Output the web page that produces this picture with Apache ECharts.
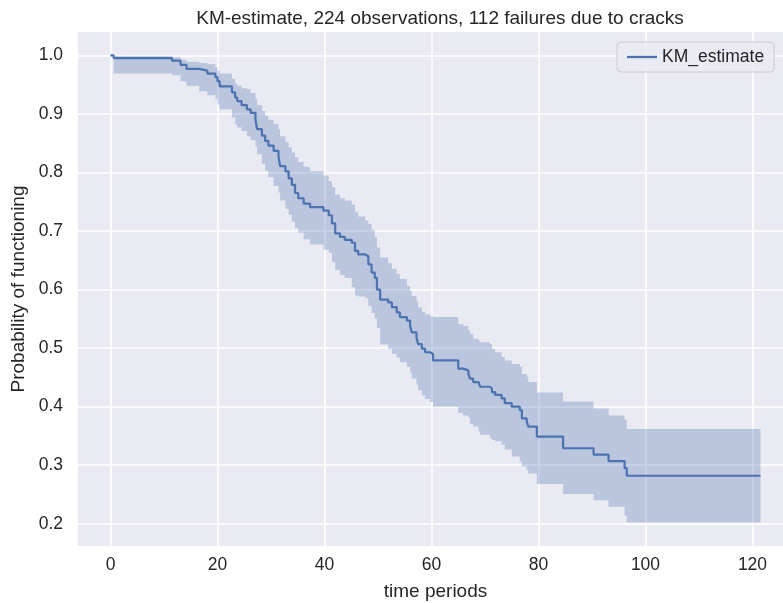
<!DOCTYPE html>
<html>
<head>
<meta charset="utf-8">
<script src="https://cdn.jsdelivr.net/npm/echarts@6/dist/echarts.min.js"></script>
<style>
html,body{margin:0;padding:0;background:#ffffff;}
#chart{width:783px;height:603px;}
</style>
</head>
<body>
<div id="chart"></div>
<script>
// Event times (time periods)
var times = [0, 0.6, 11.5, 13.1, 14.2, 16.6, 18.1, 19.6, 20.0, 20.4, 22.7, 23.3, 23.7, 24.5, 25.5, 26.2, 27.1, 27.4, 28.3, 28.9, 29.5, 30.5, 31.4, 31.7, 32.7, 33.3, 33.9, 34.5, 35.1, 36.1, 37.3, 39.8, 40.8, 41.4, 42.0, 42.9, 43.8, 45.1, 45.7, 46.3, 47.6, 48.2, 48.8, 49.4, 49.8, 50.4, 51.9, 52.6, 53.5, 54.1, 55.4, 56.0, 56.3, 57.2, 57.5, 58.2, 58.8, 59.7, 60.3, 65.0, 65.9, 66.9, 67.2, 67.8, 68.8, 69.1, 70.9, 71.3, 71.9, 73.1, 73.7, 75.0, 76.5, 76.9, 77.8, 78.1, 79.7, 84.6, 90.3, 93.1, 96.1, 96.5, 121.5];
// KM estimate
var kmEstimate = [1.000, 0.9955, 0.991, 0.984, 0.977, 0.974, 0.969, 0.963, 0.956, 0.947, 0.937, 0.928, 0.922, 0.915, 0.908, 0.902, 0.890, 0.874, 0.863, 0.854, 0.846, 0.837, 0.828, 0.811, 0.802, 0.790, 0.779, 0.765, 0.756, 0.747, 0.741, 0.735, 0.727, 0.713, 0.696, 0.690, 0.685, 0.680, 0.666, 0.660, 0.657, 0.643, 0.629, 0.620, 0.600, 0.583, 0.578, 0.570, 0.561, 0.553, 0.547, 0.538, 0.527, 0.518, 0.507, 0.499, 0.493, 0.490, 0.479, 0.465, 0.462, 0.456, 0.448, 0.442, 0.440, 0.434, 0.431, 0.425, 0.420, 0.414, 0.406, 0.400, 0.394, 0.380, 0.375, 0.366, 0.349, 0.329, 0.318, 0.307, 0.295, 0.282, 0.282];
// Lower confidence bound
var ciLower = [1.000, 0.969, 0.966, 0.956, 0.948, 0.939, 0.932, 0.925, 0.916, 0.908, 0.894, 0.882, 0.877, 0.871, 0.862, 0.855, 0.845, 0.831, 0.815, 0.803, 0.792, 0.777, 0.766, 0.752, 0.738, 0.728, 0.716, 0.705, 0.697, 0.686, 0.677, 0.668, 0.663, 0.647, 0.634, 0.625, 0.620, 0.604, 0.590, 0.588, 0.585, 0.572, 0.560, 0.550, 0.535, 0.506, 0.499, 0.490, 0.484, 0.476, 0.468, 0.458, 0.448, 0.438, 0.428, 0.419, 0.413, 0.408, 0.400, 0.389, 0.385, 0.381, 0.370, 0.366, 0.358, 0.352, 0.346, 0.343, 0.341, 0.335, 0.327, 0.315, 0.306, 0.298, 0.292, 0.286, 0.268, 0.251, 0.240, 0.229, 0.214, 0.202, 0.202];
// Upper confidence bound
var ciUpper = [1.000, 0.999, 0.997, 0.993, 0.989, 0.987, 0.985, 0.980, 0.974, 0.969, 0.960, 0.952, 0.948, 0.944, 0.942, 0.936, 0.926, 0.915, 0.905, 0.897, 0.890, 0.883, 0.874, 0.862, 0.852, 0.843, 0.834, 0.826, 0.818, 0.810, 0.802, 0.795, 0.785, 0.775, 0.762, 0.756, 0.752, 0.745, 0.732, 0.725, 0.718, 0.712, 0.702, 0.690, 0.672, 0.655, 0.645, 0.635, 0.626, 0.618, 0.606, 0.598, 0.589, 0.581, 0.570, 0.562, 0.558, 0.555, 0.553, 0.541, 0.538, 0.530, 0.524, 0.516, 0.513, 0.510, 0.507, 0.499, 0.493, 0.485, 0.479, 0.473, 0.468, 0.456, 0.451, 0.442, 0.424, 0.409, 0.397, 0.385, 0.378, 0.362, 0.362];
// Tick labels
var xTicks = [0, 20, 40, 60, 80, 100, 120];
var yTicks = [0.2, 0.3, 0.4, 0.5, 0.6, 0.7, 0.8, 0.9, 1.0];

var FONT = '"Liberation Sans", Arial, sans-serif';
var TXT = '#262626';
var LINE = '#4C72B0';

var estData = times.map(function (t, i) { return [t, kmEstimate[i]]; });
var ciData = times.map(function (t, i) { return [t, ciLower[i], ciUpper[i]]; });

function renderBand(params, api) {
  if (params.dataIndex !== 0) return null;
  var n = times.length;
  var pts = [];
  var i;
  for (i = 0; i < n; i++) {
    pts.push(api.coord([times[i], ciUpper[i]]));
    if (i < n - 1) pts.push(api.coord([times[i + 1], ciUpper[i]]));
  }
  for (i = n - 1; i >= 0; i--) {
    if (i < n - 1) pts.push(api.coord([times[i + 1], ciLower[i]]));
    pts.push(api.coord([times[i], ciLower[i]]));
  }
  return {
    type: 'polygon',
    shape: {points: pts},
    style: {fill: 'rgba(76,114,176,0.3)', stroke: null}
  };
}

var chart = echarts.init(document.getElementById('chart'), null, {renderer: 'canvas'});
chart.setOption({
  animation: false,
  backgroundColor: '#ffffff',
  title: {
    text: 'KM-estimate, 224 observations, 112 failures due to cracks',
    left: 435, top: 4, textAlign: 'center',
    textStyle: {fontFamily: FONT, fontSize: 19, fontWeight: 'normal', color: TXT}
  },
  legend: {
    data: ['KM_estimate'],
    left: 617, top: 42,
    icon: 'rect', itemWidth: 30, itemHeight: 2.3, itemGap: 10,
    padding: [6, 10, 6, 10],
    backgroundColor: 'rgba(234,234,242,0.8)',
    borderColor: '#cccccc', borderWidth: 1, borderRadius: 4,
    textStyle: {fontFamily: FONT, fontSize: 17.5, color: TXT}
  },
  grid: {
    left: 78, top: 32, width: 715, height: 514,
    show: true, backgroundColor: '#eaeaf2', borderWidth: 0,
    containLabel: false, outerBoundsMode: 'none'
  },
  xAxis: {
    type: 'value', min: -6.075, max: 127.575, splitNumber: 7,
    name: 'time periods', nameLocation: 'middle', nameGap: 36,
    nameTextStyle: {fontFamily: FONT, fontSize: 19, color: TXT},
    axisLine: {show: false},
    axisTick: {show: false, customValues: xTicks},
    axisLabel: {customValues: xTicks, fontFamily: FONT, fontSize: 17.5, color: TXT, margin: 10},
    splitLine: {show: true, lineStyle: {color: '#ffffff', width: 1.6}}
  },
  yAxis: {
    type: 'value', min: 0.162, max: 1.04,
    name: 'Probability of functioning', nameLocation: 'middle', nameGap: 46,
    nameTextStyle: {fontFamily: FONT, fontSize: 19, color: TXT},
    axisLine: {show: false},
    axisTick: {show: false, customValues: yTicks},
    axisLabel: {customValues: yTicks, fontFamily: FONT, fontSize: 17.5, color: TXT, margin: 15,
      formatter: function (v) { return v.toFixed(1); }},
    splitLine: {show: true, lineStyle: {color: '#ffffff', width: 1.6}}
  },
  series: [
    {
      name: 'ci', type: 'custom', data: ciData, silent: true,
      encode: {x: 0, y: [1, 2]},
      renderItem: renderBand, clip: true
    },
    {
      name: 'KM_estimate', type: 'line', step: 'end', data: estData,
      symbol: 'none', color: LINE, lineStyle: {color: LINE, width: 2.2}
    }
  ]
});
</script>
</body>
</html>
